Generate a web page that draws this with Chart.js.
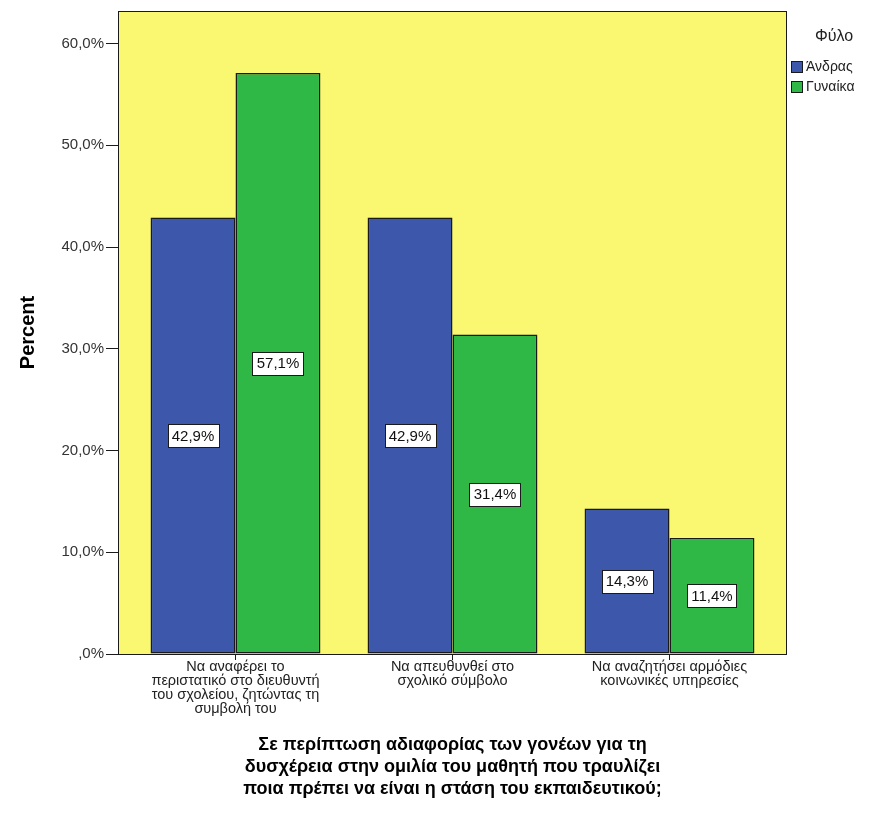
<!DOCTYPE html>
<html>
<head>
<meta charset="utf-8">
<script src="https://cdn.jsdelivr.net/npm/chart.js@4/dist/chart.umd.min.js"></script>
<style>
  html, body { margin: 0; padding: 0; background: #ffffff; }
  #wrap { width: 880px; height: 836px; }
</style>
</head>
<body>
<div id="wrap"><canvas id="chart" width="880" height="836"></canvas></div>
<script>
// Categories (multi-line tick labels)
const categories = [
  ["Να αναφέρει το", "περιστατικό στο διευθυντή", "του σχολείου, ζητώντας τη", "συμβολή του"],
  ["Να απευθυνθεί στο", "σχολικό σύμβολο"],
  ["Να αναζητήσει αρμόδιες", "κοινωνικές υπηρεσίες"]
];
const seriesNames = ["Άνδρας", "Γυναίκα"];
const maleValues = [42.9, 42.9, 14.3];
const femaleValues = [57.1, 31.4, 11.4];
const yTickValues = [0, 10, 20, 30, 40, 50, 60];
const legendTitle = "Φύλο";
const yAxisTitle = "Percent";
const xAxisTitle = [
  "Σε περίπτωση αδιαφορίας των γονέων για τη",
  "δυσχέρεια στην ομιλία του μαθητή που τραυλίζει",
  "ποια πρέπει να είναι η στάση του εκπαιδευτικού;"
];

const FONT = "Arial, 'Liberation Sans', sans-serif";
const PLOT_BG = "#faf771";
const EDGE = "#1a1a1a";
const INSET = 9; // frame extends a little beyond the category range

function pct(v) {
  const s = v.toFixed(1).replace(".", ",");
  return (s === "0,0" ? ",0" : s) + "%";
}

// Yellow plot panel and frame
const framePlugin = {
  id: "frame",
  beforeDatasetsDraw(chart) {
    const { ctx, chartArea: a } = chart;
    ctx.save();
    ctx.fillStyle = PLOT_BG;
    ctx.fillRect(a.left - INSET, a.top, a.right - a.left + 2 * INSET, a.bottom - a.top);
    ctx.restore();
  },
  afterDatasetsDraw(chart) {
    const { ctx, chartArea: a } = chart;
    ctx.save();
    ctx.strokeStyle = EDGE;
    ctx.lineWidth = 1;
    ctx.strokeRect(a.left - INSET + 0.5, a.top + 0.5, a.right - a.left + 2 * INSET - 1, a.bottom - a.top);
    ctx.restore();
  }
};

// Boxed value labels in the middle of each bar
const valueLabels = {
  id: "valueLabels",
  afterDatasetsDraw(chart) {
    const { ctx } = chart;
    ctx.save();
    ctx.font = "15px " + FONT;
    ctx.textAlign = "center";
    ctx.textBaseline = "middle";
    chart.data.datasets.forEach((ds, di) => {
      chart.getDatasetMeta(di).data.forEach((bar, i) => {
        const txt = pct(ds.data[i]);
        const w = Math.round(ctx.measureText(txt).width + 8);
        const h = 23;
        const cx = bar.x;
        const cy = (bar.y + bar.base) / 2;
        const x0 = Math.round(cx - w / 2) + 0.5;
        const y0 = Math.round(cy - h / 2) + 0.5;
        ctx.fillStyle = "#ffffff";
        ctx.fillRect(x0, y0, w, h);
        ctx.strokeStyle = EDGE;
        ctx.lineWidth = 1;
        ctx.strokeRect(x0, y0, w, h);
        ctx.fillStyle = "#111111";
        ctx.fillText(txt, cx, cy + 1);
      });
    });
    ctx.restore();
  }
};

// Legend at the right with title
const sideLegend = {
  id: "sideLegend",
  afterDraw(chart) {
    const { ctx } = chart;
    ctx.save();
    ctx.fillStyle = "#222222";
    ctx.textBaseline = "middle";
    ctx.textAlign = "left";
    ctx.font = "16px " + FONT;
    ctx.fillText(legendTitle, 815, 37);
    ctx.font = "14px " + FONT;
    chart.data.datasets.forEach((ds, i) => {
      const y = 61 + i * 20;
      ctx.fillStyle = ds.backgroundColor;
      ctx.fillRect(791, y, 12, 12);
      ctx.strokeStyle = EDGE;
      ctx.lineWidth = 1;
      ctx.strokeRect(791.5, y + 0.5, 11, 11);
      ctx.fillStyle = "#222222";
      ctx.fillText(ds.label, 806, y + 6);
    });
    ctx.restore();
  }
};

new Chart(document.getElementById("chart"), {
  type: "bar",
  data: {
    labels: categories,
    datasets: [
      { label: seriesNames[0], data: maleValues, backgroundColor: "#3d57ab" },
      { label: seriesNames[1], data: femaleValues, backgroundColor: "#2fb846" }
    ]
  },
  options: {
    responsive: false,
    animation: false,
    devicePixelRatio: 1,
    layout: { padding: { left: 0, top: 11, right: 102, bottom: 0 } },
    datasets: {
      bar: {
        categoryPercentage: 0.783,
        barPercentage: 1.0,
        borderColor: EDGE,
        borderWidth: 1.5,
        borderSkipped: false
      }
    },
    plugins: {
      legend: { display: false },
      tooltip: { enabled: false }
    },
    scales: {
      x: {
        offset: true,
        afterFit(scale) { scale.height = 182; },
        grid: { offset: false, drawOnChartArea: false, tickLength: 6, color: EDGE },
        border: { display: false },
        ticks: {
          autoSkip: false, maxRotation: 0, minRotation: 0, padding: 0,
          color: "#222222",
          font: { family: FONT, size: 14.5, lineHeight: 0.97 }
        },
        title: {
          display: true,
          text: xAxisTitle,
          color: "#000000",
          font: { family: FONT, size: 18, weight: "bold", lineHeight: 1.222 },
          padding: { top: 0, bottom: 36 }
        }
      },
      y: {
        min: 0,
        max: 63.2,
        afterFit(scale) { scale.width = 127; },
        afterBuildTicks(scale) { scale.ticks = yTickValues.map(v => ({ value: v })); },
        grid: { drawOnChartArea: false, tickLength: 21, color: EDGE },
        border: { display: false },
        ticks: {
          padding: 2,
          color: "#333333",
          font: { family: FONT, size: 15 },
          callback: v => pct(v)
        },
        title: {
          display: true,
          text: yAxisTitle,
          color: "#000000",
          font: { family: FONT, size: 20, weight: "bold", lineHeight: 1.2 },
          padding: { top: 16, bottom: 0 }
        }
      }
    }
  },
  plugins: [framePlugin, valueLabels, sideLegend]
});
</script>
</body>
</html>
